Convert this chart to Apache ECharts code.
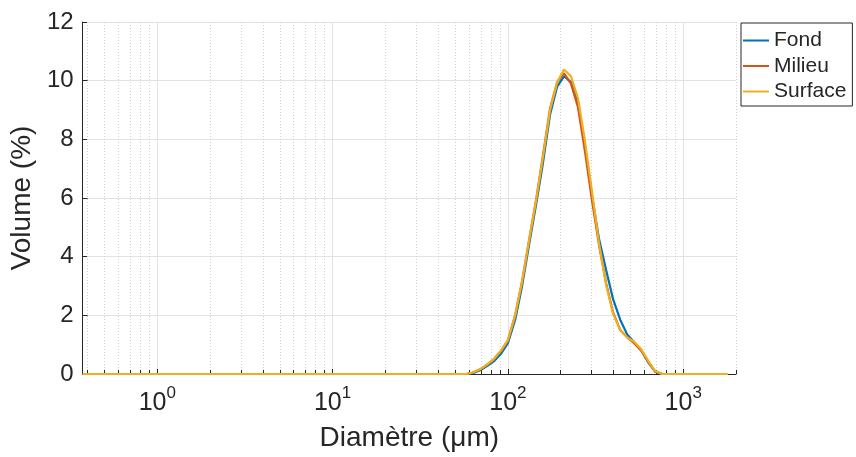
<!DOCTYPE html>
<html>
<head>
<meta charset="utf-8">
<title>Distribution granulométrique</title>
<script src="https://cdn.jsdelivr.net/npm/echarts@6/dist/echarts.min.js"></script>
<style>
  html, body { margin: 0; padding: 0; background: #ffffff; }
  #chart { width: 856px; height: 457px; }
</style>
</head>
<body>
<div id="chart"></div>
<script>
// Particle diameters (µm) and volume fractions (%) for each sampling depth
const diameters = [0.375, 1, 10, 50, 58, 63, 69, 76, 83, 91, 100, 110, 120, 132, 145, 158,
  174, 191, 209, 229, 251, 275, 302, 331, 363, 398, 437, 479, 525, 575, 631, 692, 759, 832, 1000, 1800];
const fond = [0, 0, 0, 0, 0, 0.03, 0.12, 0.27, 0.43, 0.68, 1.05, 1.85, 2.95, 4.4, 5.8, 7.15,
  8.85, 9.8, 10.15, 9.95, 9.2, 7.75, 6.05, 4.6, 3.55, 2.55, 1.85, 1.35, 1.08, 0.82, 0.4, 0.08, 0, 0, 0, 0];
const milieu = [0, 0, 0, 0, 0, 0.05, 0.15, 0.32, 0.5, 0.78, 1.15, 2.0, 3.1, 4.55, 5.95, 7.4,
  9.05, 9.95, 10.25, 9.9, 9.1, 7.6, 5.9, 4.4, 3.1, 2.1, 1.5, 1.25, 1.05, 0.8, 0.42, 0.08, 0, 0, 0, 0];
const surface = [0, 0, 0, 0, 0, 0.05, 0.15, 0.32, 0.5, 0.78, 1.15, 2.0, 3.1, 4.55, 5.95, 7.35,
  9.0, 9.95, 10.38, 10.15, 9.4, 7.95, 6.2, 4.45, 3.05, 2.05, 1.5, 1.25, 1.1, 0.85, 0.45, 0.1, 0, 0, 0, 0];

const seriesNames = ['Fond', 'Milieu', 'Surface'];
const seriesColors = ['#0072BD', '#D95319', '#EDB120'];
const seriesValues = [fond, milieu, surface];

// Axis limits and minor (2..9 x 10^k) positions on the logarithmic diameter axis
const xMin = 0.375, xMax = 2000;
const yTicks = [0, 2, 4, 6, 8, 10, 12];
const minorX = [0.4, 0.5, 0.6, 0.7, 0.8, 0.9,
  2, 3, 4, 5, 6, 7, 8, 9,
  20, 30, 40, 50, 60, 70, 80, 90,
  200, 300, 400, 500, 600, 700, 800, 900, 2000];

const FONT = '"Liberation Sans", Arial, Helvetica, sans-serif';
const INK = '#262626';

const chart = echarts.init(document.getElementById('chart'), null, { renderer: 'canvas' });

const lineSeries = seriesNames.map((name, i) => ({
  name: name,
  type: 'line',
  data: diameters.map((d, j) => [d, seriesValues[i][j]]),
  showSymbol: false,
  symbol: 'none',
  clip: false,
  z: 5 + i,
  lineStyle: { color: seriesColors[i], width: 2.2 },
  itemStyle: { color: seriesColors[i] }
}));

// Minor grid lines (dotted) and short inward minor ticks along the bottom axis
const minorSeries = {
  name: 'minor',
  type: 'line',
  data: [],
  silent: true,
  z: 1,
  markLine: {
    silent: true,
    symbol: ['none', 'none'],
    animation: false,
    label: { show: false },
    emphasis: { disabled: true },
    data: minorX.map(v => ({ xAxis: v, lineStyle: { color: '#d0d0d0', type: [1, 2], width: 1 } }))
      .concat(minorX.map(v => [
        { coord: [v, 0], lineStyle: { color: INK, type: 'solid', width: 1 } },
        { coord: [v, 0.14] }
      ]))
  }
};

chart.setOption({
  animation: false,
  backgroundColor: '#ffffff',
  grid: { left: 81, right: 120, top: 22, bottom: 83, containLabel: false },
  legend: {
    data: seriesNames,
    orient: 'vertical',
    left: 741,
    top: 23,
    icon: 'rect',
    itemWidth: 26,
    itemHeight: 2,
    itemGap: 4.5,
    padding: [7, 6, 4, 2],
    borderColor: INK,
    borderWidth: 1,
    backgroundColor: '#ffffff',
    textStyle: { fontFamily: FONT, fontSize: 21, lineHeight: 21, color: INK }
  },
  xAxis: {
    type: 'log',
    logBase: 10,
    min: xMin,
    max: xMax,
    name: 'Diamètre (μm)',
    nameLocation: 'middle',
    nameGap: 50,
    nameTextStyle: { fontFamily: FONT, fontSize: 28, color: INK },
    axisLine: { show: true, lineStyle: { color: INK, width: 1 } },
    axisTick: { show: true, inside: true, length: 5, lineStyle: { color: INK } },
    splitLine: { show: true, showMinLine: false, showMaxLine: false, lineStyle: { color: '#e2e2e2', width: 1 } },
    axisLabel: {
      showMinLabel: false,
      showMaxLabel: false,
      margin: 11,
      formatter: function (v) {
        const e = Math.log10(v);
        if (Math.abs(e - Math.round(e)) > 1e-6) return '';
        return '{b|10}{s|' + Math.round(e) + '}';
      },
      rich: {
        b: { fontFamily: FONT, fontSize: 25, lineHeight: 25, color: INK, padding: [11, 0, 0, 0] },
        s: { fontFamily: FONT, fontSize: 17, lineHeight: 17, color: INK, verticalAlign: 'top' }
      }
    }
  },
  yAxis: {
    type: 'value',
    min: yTicks[0],
    max: yTicks[yTicks.length - 1],
    interval: 2,
    name: 'Volume (%)',
    nameLocation: 'middle',
    nameGap: 38,
    nameTextStyle: { fontFamily: FONT, fontSize: 28, color: INK },
    axisLine: { show: true, lineStyle: { color: INK, width: 1 } },
    axisTick: { show: true, inside: true, length: 5, lineStyle: { color: INK } },
    splitLine: { show: true, lineStyle: { color: '#e2e2e2', width: 1 } },
    axisLabel: { fontFamily: FONT, fontSize: 24, color: INK, margin: 9 }
  },
  series: [minorSeries].concat(lineSeries)
});
</script>
</body>
</html>
